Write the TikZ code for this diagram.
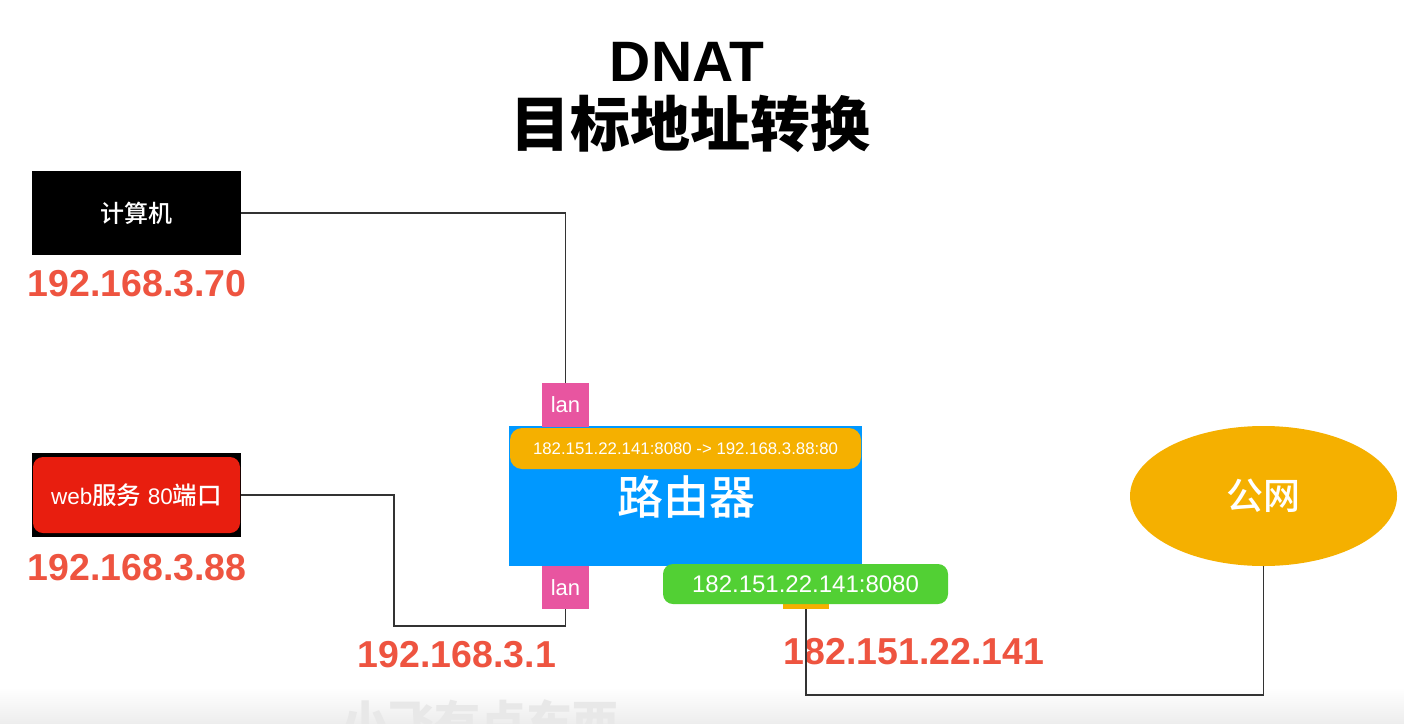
\documentclass[tikz,border=0pt]{standalone}
\usepackage{fontspec}
\setmainfont{Liberation Sans}
\newfontfamily\cjk{Noto Sans CJK SC}
\newfontfamily\cjkm{Noto Sans CJK SC Medium}
\usetikzlibrary{shapes.geometric}
\definecolor{ipred}{RGB}{238,84,64}
\definecolor{rblue}{RGB}{0,152,255}
\definecolor{rorange}{RGB}{245,176,0}
\definecolor{lpink}{RGB}{232,85,160}
\definecolor{wgreen}{RGB}{82,208,52}
\definecolor{wred}{RGB}{232,30,15}
\definecolor{wline}{RGB}{51,51,51}
\tikzset{
  ip/.style={text=ipred, font=\fontsize{37.5}{40}\selectfont\bfseries, inner sep=0pt},
  lanbox/.style={fill=lpink, minimum width=47pt, minimum height=44pt, inner sep=0pt, text=white, font=\fontsize{22}{24}\selectfont},
  wire/.style={draw=wline, line width=1.3pt},
  wtext/.style={text=white, inner sep=0pt}
}
\begin{document}
\begin{tikzpicture}[x=1pt,y=-1pt]
\useasboundingbox (0,0) rectangle (1404,723);
\fill[white] (0,0) rectangle (1404,723);
\shade[top color=white, bottom color=black!7] (0,688) rectangle (1404,723);
% watermark
\begin{scope}
\clip (0,0) rectangle (1404,723);
\node[inner sep=0pt, text=black!9, font=\cjk\bfseries\fontsize{46}{48}\selectfont] (wm) at (480,722) {小飞有点东西};
\end{scope}
% title
\node[inner sep=0pt, font=\fontsize{57}{60}\selectfont\bfseries] (t1) at (687,62) {DNAT};
\node[inner sep=0pt, font=\cjk\bfseries\fontsize{60}{62}\selectfont] (t2) at (690,124) {目标地址转换};
% computer
\node[fill=black, minimum width=209pt, minimum height=84pt, inner sep=0pt, wtext, font=\cjkm\fontsize{24}{26}\selectfont] (comp) at (136.5,213) {计算机};
\node[ip] (ip1) at (137,284) {192.168.3.70};
% web server
\fill[black] (32,453) rectangle (241,537);
\node[fill=wred, rounded corners=10pt, minimum width=207pt, minimum height=76pt, inner sep=0pt, wtext, font=\fontsize{22.5}{24}\selectfont] (web) at (136.5,495) {web{\cjkm\fontsize{24.5}{26}\selectfont 服务} 80{\cjkm\fontsize{24.5}{26}\selectfont 端口}};
\node[ip] (ip2) at (137,568) {192.168.3.88};
% router
\node[fill=rblue, minimum width=353pt, minimum height=140pt, inner sep=0pt] (router) at (685.5,496) {};
\node[fill=rorange, rounded corners=12pt, minimum width=351pt, minimum height=41pt, inner sep=0pt, wtext, font=\fontsize{16.8}{18}\selectfont] (rule) at (685.5,448.5) {182.151.22.141:8080 -> 192.168.3.88:80};
\node[wtext, font=\cjkm\fontsize{46}{48}\selectfont] (rlabel) at (686,497) {路由器};
\node[lanbox] (lan1) at (565.5,405) {lan};
\node[lanbox, minimum height=43pt] (lan2) at (565.5,587.5) {lan};
% wan port
\node[fill=rorange, minimum width=46pt, minimum height=19pt, inner sep=0pt] (wan) at (806,599.5) {};
\node[fill=wgreen, rounded corners=10pt, minimum width=285pt, minimum height=40pt, inner sep=0pt, wtext, font=\fontsize{24}{26}\selectfont] (pub) at (805.5,584) {182.151.22.141:8080};
\node[ip] (ip3) at (457,655) {192.168.3.1};
\node[ip] (ip4) at (914,652) {182.151.22.141};
% internet
\node[ellipse, fill=rorange, minimum width=267pt, minimum height=140pt, inner sep=0pt, wtext, font=\cjkm\fontsize{37}{40}\selectfont] (inet) at (1263.5,496) {公网};
% connectors
\coordinate (c1) at (394,626);
\coordinate (c2) at (806,695);
\draw[wire] (comp.east) -| (lan1.north);
\draw[wire] (web.east -| comp.east) -| (c1) -| (lan2.south);
\draw[wire] (wan.south) -- (c2) -| (inet.south);
\end{tikzpicture}
\end{document}
